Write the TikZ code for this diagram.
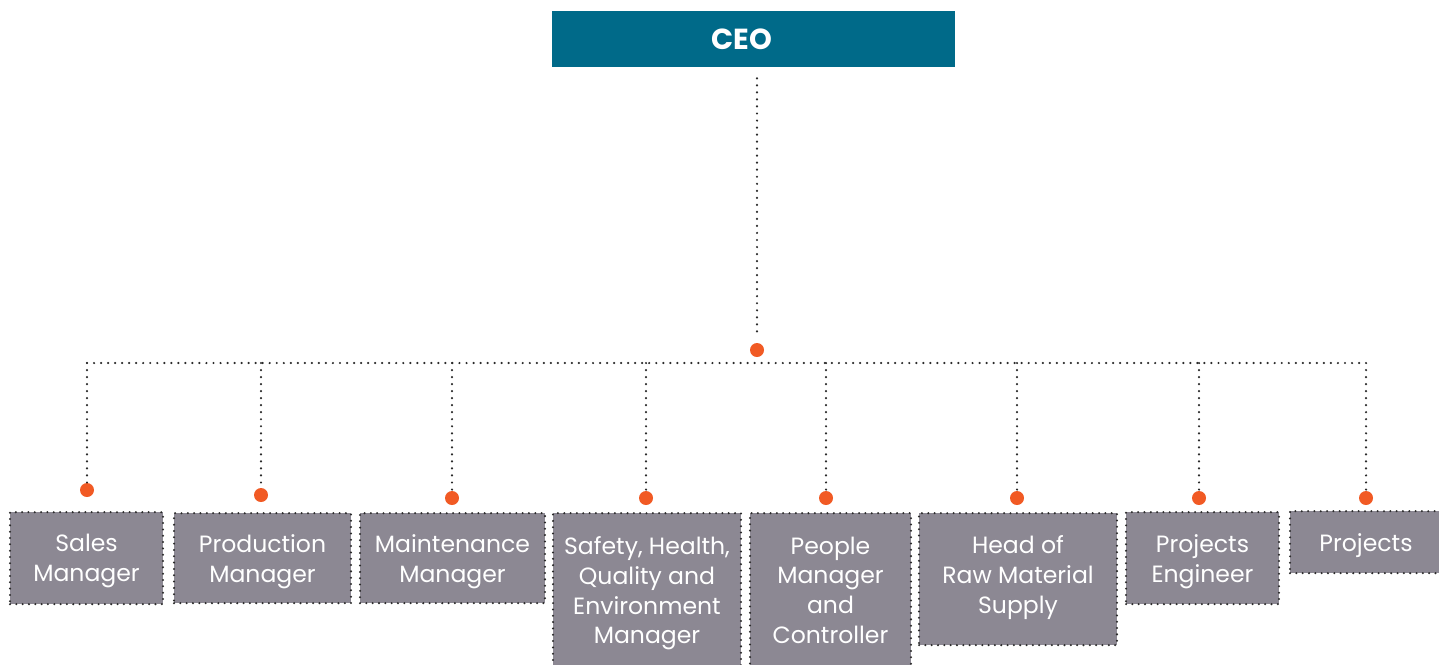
\documentclass[tikz,border=0pt]{standalone}
\usepackage{fontspec}
\setmainfont{Poppins}
\usetikzlibrary{calc}
\definecolor{ceoblue}{HTML}{006A89}
\definecolor{boxgrey}{HTML}{8C8893}
\definecolor{dotorange}{HTML}{F15A24}
\definecolor{dotgrey}{HTML}{2B2B2B}
\tikzset{
	link/.style={draw=dotgrey, line width=1.4pt, line cap=round, dash pattern=on 0pt off 4pt},
	role/.style={fill=boxgrey, draw=dotgrey, line width=1.3pt, line cap=round, dash pattern=on 0pt off 3.6pt,
		text=white, align=center, inner sep=0pt, anchor=north, text depth=0pt, font=\fontsize{13.4}{17}\selectfont},
	knot/.style={circle, fill=dotorange, inner sep=0pt, minimum size=0.28cm},
}
\begin{document}
\begin{tikzpicture}[x=0.02cm, y=-0.02cm]
			\useasboundingbox (0,0) rectangle (1439,664);
			\node[fill=ceoblue, minimum width=8.06cm, minimum height=1.12cm, inner sep=0pt, text=white, font=\bfseries\fontsize{16.5}{20}\selectfont] (ceo) at (753.5,39) {CEO\kern0.48cm};
			\node[knot] (hubdot) at (757,350) {};
			\coordinate (b1) at (87,363);
			\coordinate (b2) at (261,363);
			\coordinate (b3) at (452,363);
			\coordinate (b4) at (646,363);
			\coordinate (b5) at (826,363);
			\coordinate (b6) at (1017,363);
			\coordinate (b7) at (1199,363);
			\coordinate (b8) at (1366,363);
			\node[knot] (d1) at (87,490) {};
			\node[knot] (d2) at (261,495) {};
			\node[knot] (d3) at (452,498) {};
			\node[knot] (d4) at (646,498) {};
			\node[knot] (d5) at (826,498) {};
			\node[knot] (d6) at (1017,498) {};
			\node[knot] (d7) at (1199,498) {};
			\node[knot] (d8) at (1366,498) {};
			\node[role, minimum width=3.06cm, minimum height=1.84cm] (sales) at (86.5,511) {Sales\\Manager};
			\node[role, minimum width=3.54cm, minimum height=1.80cm] (production) at (262.5,512) {Production\\Manager};
			\node[role, minimum width=3.70cm, minimum height=1.80cm] (maintenance) at (452.5,512) {Maintenance\\Manager};
			\node[role, minimum width=3.76cm, minimum height=3.08cm] (safety) at (647,512) {Safety, Health,\\Quality and\\Environment\\Manager};
			\node[role, minimum width=3.22cm, minimum height=3.08cm] (people) at (830.5,512) {People\\Manager\\and\\Controller};
			\node[role, minimum width=3.96cm, minimum height=2.64cm, text depth=5pt] (rawmat) at (1018,512) {Head of\\Raw Material\\Supply};
			\node[role, minimum width=3.06cm, minimum height=1.84cm] (engineer) at (1202.5,511) {Projects\\Engineer};
			\node[role, minimum width=3.04cm, minimum height=1.24cm] (projects) at (1366,510) {Projects};
			\draw[link] ($(hubdot |- ceo.south)+(0,11)$) -- ($(hubdot.north)+(0,-10)$);
			\draw[link] (b1) -- (b8);
			\draw[link] (b1) -- (d1.north);
			\draw[link] (b2) -- (d2.north);
			\draw[link] (b3) -- (d3.north);
			\draw[link] (b4) -- (d4.north);
			\draw[link] (b5) -- (d5.north);
			\draw[link] (b6) -- (d6.north);
			\draw[link] (b7) -- (d7.north);
			\draw[link] (b8) -- (d8.north);
\end{tikzpicture}
\end{document}
